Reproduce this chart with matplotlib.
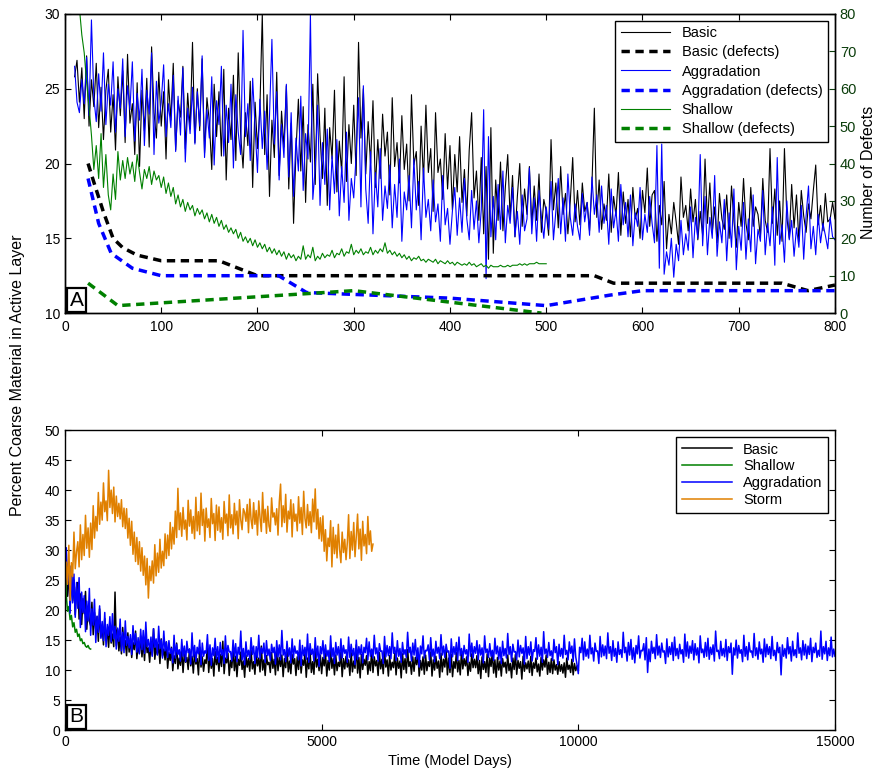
import numpy as np
import matplotlib
matplotlib.use('Agg')
import matplotlib.pyplot as plt

plt.rcParams['font.family'] = ['Liberation Sans', 'DejaVu Sans']
plt.rcParams['font.size'] = 10

# ---------------- top panel (A): first 800 model days, sampled every 2.5 days
days_a = np.arange(10, 800.1, 2.5)
basic_a = [
    25.8, 26.9, 24.1, 26.4, 23.0, 27.2, 22.5, 25.6, 23.8, 26.7,
    22.4, 25.1, 21.6, 24.9, 26.3, 22.1, 24.6, 20.9, 25.8, 23.2,
    26.2, 21.4, 27.3, 22.7, 24.0, 20.6, 25.4, 19.8, 24.9, 22.2,
    25.7, 21.1, 27.8, 23.4, 21.7, 26.1, 22.5, 24.8, 20.3, 25.6,
    22.9, 26.7, 20.9, 24.2, 23.1, 26.5, 21.0, 24.7, 22.3, 28.1,
    21.4, 25.0, 22.2, 27.0, 20.7, 24.4, 22.8, 19.6, 25.3, 21.8,
    24.8, 20.5, 26.3, 18.9, 23.7, 21.6, 25.9, 20.2, 27.4, 22.0,
    19.7, 23.4, 21.2, 25.5, 18.4, 24.1, 21.0, 23.6, 30.0, 20.6,
    24.6, 17.8, 22.9, 20.4, 26.1, 19.2, 23.5, 21.1, 25.2, 18.3,
    22.7, 16.0, 20.8, 24.3, 19.5, 23.8, 17.4, 22.6, 20.1, 25.3,
    18.6, 26.0, 21.9, 19.0, 23.7, 17.2, 22.4, 20.3, 24.9, 18.1,
    21.5, 19.4, 25.8, 18.8, 22.6, 20.0, 23.9, 19.2, 28.1, 21.7,
    25.0, 19.3, 22.8, 20.0, 24.2, 18.4, 21.6, 19.0, 23.3, 20.5,
    22.1, 17.9, 24.4, 19.8, 21.4, 18.7, 23.2, 19.6, 21.3, 17.5,
    24.6, 19.9, 20.8, 17.2, 22.5, 18.9, 23.9, 19.4, 21.0, 16.8,
    23.4, 19.4, 20.3, 17.6, 22.0, 18.3, 21.2, 16.9, 20.6, 18.1,
    21.8, 17.4, 19.6, 16.5, 20.9, 23.4, 17.7, 19.5, 16.2, 20.4,
    15.3, 19.8, 13.6, 22.4, 14.0, 18.9, 16.2, 20.1, 15.5, 18.4,
    20.6, 16.4, 19.2, 15.1, 17.8, 20.0, 15.8, 18.3, 16.6, 19.8,
    15.9, 18.5, 16.2, 19.3, 15.4, 17.6, 16.8, 15.2, 21.6, 16.9,
    18.7, 15.7, 19.8, 16.6, 18.0, 15.3, 17.5, 20.4, 16.1, 18.2,
    15.9, 18.7, 16.8, 17.4, 15.5, 18.6, 23.7, 16.4, 18.9, 15.6,
    17.3, 16.2, 19.3, 15.4, 17.8, 16.5, 19.4, 15.2, 18.1, 16.0,
    17.6, 15.1, 18.4, 16.3, 17.0, 15.0, 18.2, 16.7, 19.7, 15.8,
    17.9, 18.2, 14.8, 17.2, 15.9, 18.8, 14.3, 16.6, 15.3, 17.4,
    16.1, 14.6, 19.1, 16.4, 17.2, 15.5, 18.3, 16.1, 17.6, 14.9,
    16.8, 15.2, 20.3, 16.0, 18.7, 15.4, 17.1, 14.7, 18.0, 16.3,
    15.6, 17.9, 15.0, 18.5, 16.2, 14.4, 17.4, 15.8, 19.0, 16.0,
    14.9, 18.4, 15.8, 17.1, 16.6, 15.1, 19.0, 16.2, 15.4, 21.0,
    16.0, 18.3, 15.2, 17.5, 14.8, 21.0, 16.4, 15.0, 18.6, 15.7,
    17.9, 14.8, 18.2, 16.5, 15.4, 17.3, 16.3, 18.2, 19.9, 15.9,
    17.2, 15.5, 18.0, 16.1, 16.3, 17.4, 16.3,
]
aggr_a = [
    26.5, 24.1, 23.4, 25.6, 24.0, 27.1, 23.2, 29.6, 24.4, 22.8,
    26.0, 23.5, 27.4, 22.6, 25.3, 23.9, 26.8, 22.1, 25.0, 23.7,
    27.0, 21.8, 25.2, 23.6, 26.8, 21.5, 24.7, 22.9, 26.3, 21.2,
    24.9, 23.3, 27.4, 20.6, 25.5, 22.7, 24.1, 26.6, 21.8, 24.0,
    22.4, 25.9, 20.8, 24.5, 21.9, 26.4, 20.1, 23.7, 22.0, 25.1,
    21.3, 24.8, 22.5, 27.2, 20.4, 23.6, 21.7, 25.8, 19.9, 24.2,
    22.6, 26.5, 20.5, 23.9, 21.4, 25.3, 19.7, 24.6, 22.1, 20.6,
    28.9, 21.8, 24.0, 20.2, 25.7, 22.4, 19.4, 24.3, 21.0, 23.5,
    19.6, 23.2, 28.3, 21.3, 24.8, 18.9, 22.6, 20.4, 25.3, 19.1,
    23.4, 17.8, 21.7, 19.5, 24.5, 18.2, 22.0, 20.3, 30.0, 17.6,
    19.7, 23.9, 17.2, 21.4, 18.6, 22.3, 16.9, 20.5, 18.0, 21.6,
    16.5, 19.8, 17.4, 22.1, 16.2, 19.0, 17.7, 20.6, 24.4, 17.1,
    25.2, 18.3, 16.0, 20.8, 15.3, 19.4, 17.1, 21.0, 16.2, 18.5,
    17.0, 19.9, 15.7, 18.6, 16.4, 20.3, 14.8, 18.1, 16.9, 19.2,
    15.7, 20.3, 16.9, 18.8, 14.9, 19.7, 16.4, 17.6, 15.5, 18.9,
    16.1, 17.3, 14.8, 19.2, 15.9, 17.0, 14.6, 16.8, 18.4, 15.2,
    17.7, 15.4, 19.0, 16.3, 14.9, 18.2, 15.6, 17.5, 14.7, 16.9,
    23.6, 12.3, 21.8, 15.1, 17.8, 14.9, 18.6, 15.6, 19.5, 14.7,
    17.2, 16.0, 18.4, 15.1, 16.8, 14.6, 17.9, 15.5, 16.3, 19.7,
    15.3, 17.7, 14.8, 18.2, 16.4, 15.0, 17.1, 15.6, 18.8, 14.9,
    16.8, 19.0, 15.3, 17.7, 14.8, 19.3, 16.4, 15.2, 17.3, 15.8,
    14.9, 18.0, 16.1, 17.4, 15.2, 19.1, 16.6, 17.9, 15.4, 18.5,
    16.0, 17.2, 14.6, 18.3, 15.7, 16.9, 14.8, 18.6, 15.9, 17.4,
    15.1, 17.9, 14.5, 16.7, 15.8, 18.4, 14.9, 16.6, 15.4, 17.8,
    16.0, 14.7, 21.2, 13.0, 21.3, 12.6, 14.1, 13.2, 15.0, 12.4,
    14.6, 13.5, 16.2, 13.9, 15.3, 14.2, 17.1, 13.7, 16.4, 15.0,
    20.6, 14.5, 17.8, 13.9, 16.4, 15.0, 19.2, 13.8, 16.1, 14.7,
    17.6, 13.5, 16.7, 14.4, 18.3, 12.9, 15.8, 14.2, 17.4, 13.6,
    16.3, 14.1, 17.9, 13.3, 15.6, 14.8, 18.2, 13.9, 16.0, 14.5,
    17.1, 13.2, 20.4, 14.6, 15.9, 13.4, 17.5, 14.9, 16.2, 13.8,
    15.7, 14.4, 17.2, 13.6, 16.5, 18.5, 14.3, 15.8, 13.9, 16.6,
    14.7, 16.0, 15.2, 14.3, 16.4, 15.1, 14.9,
]
days_sh = np.arange(0, 500.1, 2.5)
shallow_a = [
    31.0, 31.0, 31.0, 31.0, 31.0, 31.0, 30.4, 28.6, 27.4, 25.4,
    23.8, 21.9, 19.6, 21.2, 19.0, 22.0, 18.4, 20.6, 17.9, 16.9,
    19.3, 17.6, 20.8, 18.9, 20.2, 19.0, 20.4, 19.3, 20.1, 18.8,
    20.6, 19.4, 18.3, 19.6, 19.0, 19.8, 18.6, 19.5, 18.9, 19.2,
    18.4, 19.1, 18.0, 18.7, 17.8, 18.4, 17.3, 17.9, 17.1, 17.6,
    16.8, 17.4, 16.9, 17.2, 16.5, 17.0, 16.6, 16.9, 16.3, 16.7,
    16.1, 16.6, 16.0, 16.4, 15.8, 16.2, 15.6, 15.9, 15.4, 15.7,
    15.3, 15.6, 15.0, 15.4, 14.8, 15.1, 14.7, 15.0, 14.5, 14.9,
    14.4, 14.7, 14.3, 14.6, 14.1, 14.4, 14.0, 14.3, 13.9, 14.2,
    13.8, 14.1, 13.6, 14.0, 13.7, 13.9, 13.5, 13.8, 13.6, 14.5,
    13.6, 13.9, 13.7, 14.4, 13.5, 13.8, 13.6, 14.0, 13.7, 13.9,
    13.8, 14.2, 13.7, 14.0, 13.9, 14.3, 13.8, 14.1, 14.0, 14.6,
    13.9, 14.2, 14.0, 14.3, 13.9, 14.1, 14.0, 14.4, 13.9, 14.2,
    14.0, 14.3, 14.1, 14.7, 14.0, 14.2, 13.9, 14.1, 13.8, 14.0,
    13.7, 13.9, 13.6, 13.8, 13.5, 13.7, 13.6, 13.8, 13.5, 13.6,
    13.4, 13.6, 13.5, 13.4, 13.6, 13.3, 13.5, 13.4, 13.3, 13.5,
    13.3, 13.4, 13.2, 13.4, 13.3, 13.2, 13.3, 13.2, 13.4, 13.2,
    13.3, 13.1, 13.2, 13.3, 13.1, 13.2, 13.0, 13.2, 13.1, 13.1,
    13.1, 13.2, 13.1, 13.1, 13.2, 13.1, 13.2, 13.2, 13.2, 13.3,
    13.2, 13.3, 13.2, 13.3, 13.3, 13.3, 13.4, 13.3, 13.3, 13.3,
    13.3,
]

# number of defects (right axis)
basic_def_days = [24, 30, 40, 50, 60, 75, 100, 160, 200, 550, 570, 745, 772, 800]
basic_def = [40, 35, 27, 20, 17.5, 15.5, 14, 14, 10, 10, 8, 8, 6, 7.5]
aggr_def_days = [24, 35, 48, 70, 100, 222, 251, 300, 400, 500, 566, 600, 800]
aggr_def = [36, 24, 16, 12, 10, 10, 5.5, 5, 4, 2, 4.8, 6, 6]
shallow_def_days = [24, 55, 300, 495]
shallow_def = [8, 2, 6, 0]

# ---------------- bottom panel (B): full runs, sampled every 25 days
days_basic_b = np.arange(0, 10001, 25)
basic_b = [
    24.0, 28.5, 22.3, 26.9, 20.1, 27.4, 21.5, 25.0, 19.2, 23.8, 24.6, 18.5, 22.7, 17.6, 21.9, 19.4, 23.1, 16.8, 20.5, 18.1,
    17.4, 21.3, 15.9, 19.6, 16.7, 18.9, 14.8, 20.2, 15.5, 17.3, 14.2, 18.6, 15.0, 16.4, 13.8, 17.7, 14.5, 16.0, 13.9, 23.0,
    14.1, 16.8, 13.2, 15.5, 12.7, 17.1, 13.6, 14.9, 12.4, 16.2, 13.0, 15.3, 12.1, 14.6, 13.4, 16.5, 11.9, 14.2, 12.8, 15.7,
    12.2, 14.8, 11.6, 15.9, 12.9, 13.7, 11.3, 14.5, 12.5, 16.9, 11.8, 13.9, 12.6, 14.3, 11.1, 15.2, 12.3, 13.5, 11.7, 14.7,
    10.3, 12.9, 11.6, 13.8, 9.9, 12.4, 11.1, 14.5, 10.2, 12.0, 10.8, 13.2, 9.6, 12.7, 11.3, 12.1, 10.1, 13.5, 10.7, 12.3,
    9.5, 13.0, 11.0, 11.9, 9.2, 13.8, 10.5, 12.2, 9.8, 11.7, 11.1, 14.3, 9.6, 12.4, 10.3, 11.9, 9.0, 13.1, 10.9, 12.1,
    9.8, 12.6, 10.6, 14.8, 9.4, 12.0, 11.2, 12.8, 9.1, 11.6, 10.4, 13.6, 9.9, 12.3, 8.9, 11.8, 10.8, 13.0, 10.1, 11.5,
    8.8, 12.5, 10.5, 11.9, 9.8, 13.3, 10.2, 11.4, 9.3, 12.7, 10.7, 12.0, 9.7, 14.0, 10.0, 11.7, 9.1, 12.4, 10.9, 11.3,
    9.6, 12.9, 10.3, 11.8, 9.2, 13.1, 9.9, 12.1, 10.6, 12.5, 8.9, 11.9, 10.4, 13.5, 9.7, 11.5, 9.4, 12.6, 11.0, 11.9,
    9.1, 12.2, 10.1, 13.2, 9.5, 11.7, 10.8, 12.7, 8.8, 12.0, 10.2, 13.0, 9.6, 11.4, 9.3, 13.7, 10.5, 11.8, 9.9, 12.5,
    9.4, 12.1, 10.7, 12.8, 9.0, 11.6, 10.0, 13.4, 10.3, 11.9, 9.2, 12.5, 9.9, 11.3, 10.6, 13.0, 8.9, 11.9, 10.2, 12.3,
    10.5, 11.7, 9.1, 12.9, 9.7, 11.5, 10.3, 14.2, 9.5, 12.1, 8.7, 12.6, 10.1, 11.8, 10.8, 12.4, 9.3, 11.4, 9.9, 13.3,
    9.6, 12.2, 10.7, 11.6, 9.1, 12.9, 10.2, 11.8, 9.4, 13.1, 10.5, 11.7, 9.0, 12.4, 10.0, 11.3, 10.4, 12.8, 9.2, 12.0,
    10.3, 11.5, 8.7, 12.7, 10.1, 11.9, 9.5, 13.4, 10.6, 11.4, 9.3, 12.2, 9.8, 12.1, 10.9, 12.9, 9.0, 11.6, 10.0, 12.2,
    9.3, 12.5, 9.9, 11.4, 10.6, 13.0, 9.0, 11.7, 10.0, 12.3, 10.3, 11.5, 8.8, 12.8, 9.7, 11.8, 10.5, 13.2, 9.2, 12.0,
    9.6, 12.6, 8.9, 11.4, 10.3, 12.9, 9.7, 11.6, 9.2, 13.1, 10.2, 11.9, 10.7, 12.2, 9.1, 11.3, 9.8, 12.7, 10.4, 11.8,
    10.4, 12.4, 9.4, 11.6, 8.6, 12.2, 10.1, 11.4, 9.6, 12.7, 8.9, 12.0, 10.6, 12.9, 9.5, 11.7, 8.8, 12.1, 10.0, 11.5,
    9.0, 11.9, 10.5, 11.3, 9.5, 12.5, 9.9, 11.1, 8.7, 12.0, 10.1, 12.6, 9.3, 11.6, 10.3, 11.4, 8.5, 12.3, 9.8, 11.2,
    10.2, 11.5, 9.6, 12.3, 9.1, 11.2, 10.3, 12.0, 9.7, 11.0, 9.0, 12.1, 10.0, 11.7, 10.5, 12.5, 9.3, 11.3, 9.6, 11.9,
    9.4, 11.7, 10.0, 10.9, 9.3, 11.4, 9.8, 10.9, 9.5, 11.2, 8.8, 12.0, 10.1, 10.8, 9.6, 11.8, 9.2, 11.1, 9.9, 10.7,
    10.0,
]
days_sh_b = np.arange(0, 501, 25)
shallow_b = [
    30.0, 22.5, 19.8, 20.6, 18.4, 19.1, 17.2, 17.9, 16.3, 16.8,
    15.6, 16.0, 14.9, 15.2, 14.4, 14.6, 14.0, 13.8, 14.1, 13.6,
    13.5,
]
days_aggr_b = np.arange(0, 15001, 25)
aggr_b = [
    22.0, 30.4, 24.8, 28.1, 19.5, 27.3, 21.2, 26.0, 18.8, 24.6, 20.3, 25.4, 17.1, 23.0, 19.6, 22.4, 16.4, 21.5, 18.2, 23.6,
    15.8, 20.2, 17.5, 21.8, 14.6, 19.0, 16.3, 20.7, 15.3, 18.1, 14.9, 19.6, 13.9, 17.6, 15.8, 18.9, 14.7, 19.4, 15.2, 17.3,
    13.5, 17.0, 14.8, 18.5, 13.2, 16.3, 12.9, 18.2, 14.1, 15.6, 13.7, 15.9, 12.6, 17.4, 14.3, 16.1, 13.0, 15.4, 12.7, 16.8,
    13.4, 16.6, 12.8, 18.0, 13.9, 15.1, 13.1, 15.5, 12.3, 16.9, 13.8, 15.2, 12.5, 17.3, 13.6, 15.0, 12.0, 16.5, 13.2, 14.7,
    12.1, 14.9, 12.8, 13.6, 11.2, 15.8, 12.0, 14.3, 12.6, 13.4, 11.5, 15.1, 12.3, 14.0, 11.4, 14.8, 12.9, 13.5, 11.0, 16.2,
    12.2, 14.1, 11.4, 13.8, 12.7, 15.0, 10.9, 14.5, 12.3, 13.2, 12.8, 15.9, 11.6, 14.2, 10.8, 13.7, 12.4, 15.3, 11.9, 13.9,
    11.3, 14.6, 12.5, 13.4, 11.1, 15.7, 12.0, 14.1, 13.0, 13.1, 11.5, 15.0, 12.2, 14.4, 11.4, 13.8, 12.6, 16.5, 11.7, 13.6,
    10.9, 14.7, 12.3, 13.3, 11.8, 15.4, 12.6, 14.0, 11.1, 13.9, 12.1, 15.8, 11.9, 13.7, 12.8, 14.5, 11.3, 14.9, 12.4, 13.5,
    11.6, 14.3, 12.9, 13.8, 11.0, 14.9, 12.2, 14.2, 11.7, 16.6, 12.5, 13.4, 11.4, 14.8, 12.3, 13.7, 11.2, 15.2, 12.0, 14.0,
    12.8, 13.2, 11.7, 15.0, 10.7, 14.1, 12.4, 13.8, 11.8, 16.0, 11.3, 14.4, 12.6, 13.5, 11.5, 15.4, 12.1, 14.0, 10.6, 13.9,
    12.7, 14.9, 11.9, 14.2, 12.3, 13.3, 11.4, 15.7, 12.2, 13.7, 11.1, 14.6, 12.5, 13.9, 11.6, 15.2, 12.0, 14.1, 12.8, 13.4,
    11.3, 15.5, 12.1, 14.3, 12.4, 13.6, 10.9, 15.0, 11.8, 13.9, 12.6, 14.2, 11.2, 13.8, 12.9, 15.3, 11.7, 14.7, 12.3, 13.5,
    12.0, 15.8, 12.7, 13.7, 11.5, 14.4, 13.1, 13.2, 11.1, 15.6, 12.2, 14.1, 12.4, 13.9, 11.9, 16.2, 12.8, 13.8, 11.6, 14.9,
    12.3, 13.6, 11.3, 14.6, 12.6, 13.4, 12.1, 16.3, 12.9, 13.8, 11.5, 14.5, 12.5, 15.1, 11.8, 13.7, 10.5, 14.0, 12.7, 15.7,
    12.0, 13.3, 13.2, 14.2, 11.7, 15.4, 12.3, 13.5, 11.4, 14.8, 12.8, 13.8, 11.9, 15.9, 12.5, 14.0, 12.1, 14.3, 13.0, 13.2,
    10.3, 15.2, 12.2, 13.9, 12.6, 14.6, 11.6, 15.5, 12.4, 13.6, 11.9, 14.1, 12.7, 13.4, 11.3, 16.0, 12.3, 14.5, 12.0, 13.9,
    12.8, 14.9, 11.7, 14.2, 12.5, 13.7, 11.2, 15.7, 12.9, 13.5, 12.1, 14.4, 12.3, 13.3, 11.6, 15.3, 12.7, 14.0, 11.8, 13.8,
    11.1, 14.8, 12.4, 13.6, 12.0, 16.1, 12.6, 13.9, 11.4, 14.3, 13.0, 13.1, 11.7, 15.0, 12.2, 14.1, 12.8, 13.7, 11.0, 15.6,
    11.9, 13.9, 12.5, 14.7, 11.5, 13.4, 13.1, 15.4, 11.8, 14.2, 12.3, 13.8, 11.3, 16.4, 12.7, 13.5, 12.1, 14.6, 12.4, 13.2,
    11.6, 15.1, 12.9, 13.9, 10.9, 14.3, 12.3, 13.6, 12.0, 15.8, 12.6, 13.3, 11.7, 14.7, 12.8, 14.0, 11.4, 15.2, 12.2, 10.9,
    9.4, 13.8, 12.9, 15.3, 11.7, 14.7, 12.3, 13.5, 12.0, 15.8, 12.7, 13.7, 11.5, 14.5, 13.1, 13.2, 11.1, 15.6, 12.2, 14.2,
    12.4, 14.0, 11.9, 16.2, 12.8, 13.9, 11.6, 14.9, 12.3, 13.6, 11.3, 14.7, 12.6, 13.4, 12.1, 16.3, 12.9, 13.8, 11.5, 14.6,
    12.5, 15.1, 11.8, 13.7, 11.2, 14.1, 12.7, 15.7, 12.0, 13.3, 13.2, 14.4, 11.7, 15.4, 9.6, 13.5, 11.4, 14.8, 12.8, 13.8,
    11.9, 15.9, 12.5, 14.0, 12.1, 14.5, 13.0, 13.2, 11.1, 15.2, 12.2, 13.9, 12.6, 14.6, 11.6, 15.5, 12.4, 13.6, 11.9, 14.3,
    12.7, 13.4, 11.3, 16.0, 12.3, 14.7, 12.0, 14.0, 12.8, 14.9, 11.7, 14.4, 12.5, 13.7, 11.2, 15.7, 12.9, 13.5, 12.1, 14.6,
    12.3, 15.3, 11.8, 13.8, 12.6, 14.2, 11.5, 16.5, 13.1, 13.3, 11.9, 14.8, 12.4, 13.6, 12.2, 15.1, 11.6, 13.9, 12.9, 14.5,
    9.3, 13.7, 12.5, 15.0, 12.0, 14.1, 12.8, 13.4, 11.4, 15.8, 12.3, 13.9, 11.7, 14.6, 13.0, 13.2, 12.1, 16.1, 12.4, 13.7,
    11.8, 14.7, 12.7, 13.5, 11.3, 15.2, 12.2, 14.3, 12.6, 13.9, 11.9, 15.6, 12.4, 13.3, 11.6, 14.6, 12.9, 13.8, 9.2, 14.2,
    12.3, 13.6, 12.0, 15.4, 12.7, 13.9, 11.5, 14.8, 12.4, 13.4, 12.1, 16.2, 12.8, 13.7, 11.7, 14.9, 12.5, 14.3, 11.9, 14.0,
    12.6, 15.3, 11.4, 13.8, 12.9, 14.5, 12.1, 13.3, 12.3, 16.5, 11.8, 13.9, 12.7, 14.8, 11.6, 13.7, 12.4, 15.5, 12.2, 13.5,
    12.3,
]
days_storm_b = np.arange(0, 6001, 25)
storm_b = [
    22.5, 28.0, 24.3, 30.8, 21.6, 27.9, 25.6, 33.0, 26.9, 29.7, 31.4, 27.2, 34.2, 28.4, 32.6, 29.1, 35.8, 30.3, 33.7, 28.8,
    34.5, 30.1, 37.4, 32.0, 35.6, 33.2, 39.6, 34.3, 38.0, 35.0, 41.2, 36.4, 38.2, 34.9, 43.3, 37.1, 40.0, 36.1, 40.5, 34.7,
    39.0, 35.6, 37.8, 35.2, 38.4, 33.9, 37.0, 33.6, 36.9, 32.0, 35.3, 30.8, 34.8, 29.3, 33.0, 28.1, 32.1, 27.6, 31.4, 26.5,
    30.4, 25.8, 29.0, 24.2, 28.6, 22.0, 27.3, 24.9, 28.2, 24.5, 30.9, 25.7, 29.5, 26.3, 31.8, 27.0, 29.8, 27.4, 32.7, 28.6,
    32.5, 29.1, 34.6, 30.2, 33.8, 31.0, 36.5, 32.1, 40.3, 33.4, 36.2, 32.3, 37.1, 33.5, 35.0, 31.7, 38.3, 34.0, 36.7, 32.8,
    35.6, 31.9, 38.8, 33.2, 36.4, 32.6, 39.5, 34.1, 36.8, 31.5, 37.0, 33.8, 35.2, 32.1, 38.6, 34.4, 36.1, 31.6, 37.5, 33.3,
    37.2, 33.0, 35.4, 31.8, 38.1, 34.5, 36.0, 32.4, 39.2, 33.7, 35.9, 32.7, 37.8, 34.2, 36.5, 31.9, 38.4, 35.0, 33.4, 36.9,
    36.3, 34.8, 37.6, 32.9, 38.5, 35.1, 33.6, 37.9, 34.3, 36.6, 32.5, 38.2, 35.4, 33.1, 39.6, 34.6, 36.8, 32.8, 37.3, 34.0,
    33.1, 38.7, 35.5, 36.2, 34.2, 36.9, 32.5, 38.0, 41.0, 33.9, 37.4, 34.6, 39.3, 33.0, 36.5, 35.2, 38.4, 32.2, 37.7, 34.8,
    36.0, 33.2, 38.9, 34.5, 37.1, 32.6, 39.8, 35.3, 33.7, 37.6, 34.1, 36.4, 32.9, 38.5, 34.7, 40.2, 33.5, 36.8, 31.9, 35.4,
    31.5, 35.7, 29.8, 33.4, 28.2, 32.0, 30.6, 34.9, 27.2, 33.8, 29.4, 32.5, 28.7, 34.3, 30.1, 27.9, 33.0, 29.6, 31.8, 28.4,
    31.2, 35.9, 28.6, 33.1, 30.0, 34.6, 28.9, 32.3, 36.0, 30.2, 33.5, 28.3, 34.8, 30.7, 32.6, 29.4, 35.6, 30.9, 33.2, 29.8,
    31.0,
]

green = '#008000'
blue = '#0000ff'
orange = '#e08000'
defect_green = '#0b3d0b'
dash = (0, (2.4, 1.6))

fig = plt.figure(figsize=(8.78, 7.75), dpi=100)
ax1 = fig.add_axes([0.074, 0.596, 0.877, 0.386])
ax2 = fig.add_axes([0.074, 0.058, 0.877, 0.387])

# --- panel A
ax1.plot(days_a, basic_a, color='k', lw=0.8, label='Basic')
ax1.plot(days_a, aggr_a, color=blue, lw=0.8, label='Aggradation')
ax1.plot(days_sh, shallow_a, color=green, lw=0.8, label='Shallow')
ax1.set_xlim(0, 800)
ax1.set_ylim(10, 30)
ax1.set_xticks(range(0, 801, 100))
ax1.set_yticks(range(10, 31, 5))
ax1.tick_params(direction='in', length=4, top=True, right=False)
ax1.tick_params(axis='x', pad=5)

axd = ax1.twinx()
axd.plot(basic_def_days, basic_def, color='k', lw=2.5, ls=dash, label='Basic (defects)')
axd.plot(aggr_def_days, aggr_def, color=blue, lw=2.5, ls=dash, label='Aggradation (defects)')
axd.plot(shallow_def_days, shallow_def, color=green, lw=2.5, ls=dash, label='Shallow (defects)')
axd.set_ylim(0, 80)
axd.set_yticks(range(0, 81, 10))
axd.tick_params(direction='in', length=4, colors=defect_green, labelsize=10.5)
axd.set_ylabel('Number of Defects', fontsize=11.5)
axd.yaxis.set_label_coords(1.034, 0.47)

h = ax1.get_lines() + axd.get_lines()
order = [0, 3, 1, 4, 2, 5]
leg = axd.legend([h[i] for i in order], [h[i].get_label() for i in order],
                 loc='upper right', fontsize=10.5, handlelength=3.4, borderaxespad=0.45,
                 fancybox=False, edgecolor='k', framealpha=1, labelspacing=0.35)
leg.get_frame().set_linewidth(1.0)

ax1.text(0.006, 0.012, 'A', transform=ax1.transAxes, fontsize=15, ha='left', va='bottom',
         bbox=dict(boxstyle='square,pad=0.12', fc='white', ec='k', lw=1.6), zorder=5)

# --- panel B
ax2.plot(days_basic_b, basic_b, color='k', lw=1.1, label='Basic')
ax2.plot(days_sh_b, shallow_b, color=green, lw=1.1, label='Shallow')
ax2.plot(days_aggr_b, aggr_b, color=blue, lw=1.1, label='Aggradation')
ax2.plot(days_storm_b, storm_b, color=orange, lw=1.1, label='Storm')
ax2.set_xlim(0, 15000)
ax2.set_ylim(0, 50)
ax2.set_xticks([0, 5000, 10000, 15000])
ax2.set_yticks(range(0, 51, 5))
ax2.tick_params(direction='in', length=4, top=True, right=True)
ax2.set_xlabel('Time (Model Days)', fontsize=10.5, labelpad=4)
leg2 = ax2.legend(loc='upper right', fontsize=10.5, handlelength=3.4, borderaxespad=0.45,
                  fancybox=False, edgecolor='k', framealpha=1, labelspacing=0.2)
leg2.get_frame().set_linewidth(1.0)

ax2.text(0.006, 0.012, 'B', transform=ax2.transAxes, fontsize=15, ha='left', va='bottom',
         bbox=dict(boxstyle='square,pad=0.12', fc='white', ec='k', lw=1.6), zorder=5)

for ax in (ax1, ax2, axd):
    for s in ax.spines.values():
        s.set_linewidth(1.0)

fig.text(0.0205, 0.516, 'Percent Coarse Material in Active Layer', rotation=90,
         ha='center', va='center', fontsize=11.5)

fig.savefig('out.png', dpi=100)
